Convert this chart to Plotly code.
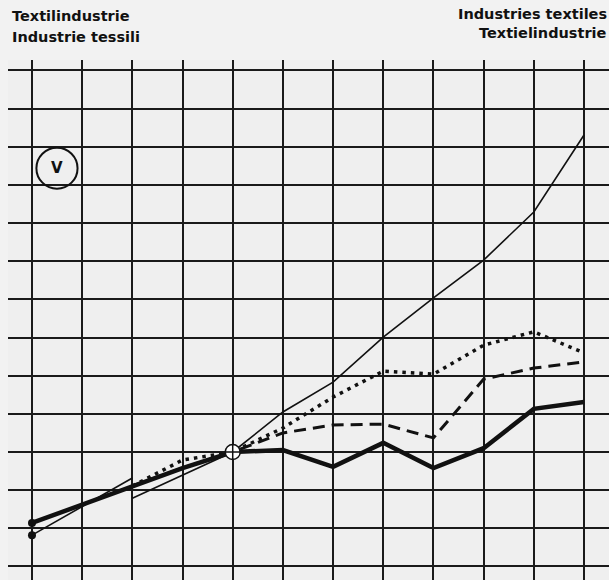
import plotly.graph_objects as go

# x positions are period indices (12 periods, base period index 4 = 100)
periods = list(range(12))

# Index values (base = 100)
thin_old_x = [0, 2]
thin_old = [78.2, 93.2]
thin_x = [2, 3, 4, 5, 6, 7, 8, 9, 10, 11]
thin = [87.9, 94.0, 100.0, 110.5, 118.3, 130.1, 140.4, 150.3, 162.9, 183.1]

thick_x = [0, 2, 3, 4, 5, 6, 7, 8, 9, 10, 11]
thick = [81.4, 91.1, 95.8, 100.0, 100.5, 96.1, 102.4, 95.8, 101.0, 111.3, 113.1]

dotted_x = [2, 3, 4, 5, 6, 7, 8, 9, 10, 11]
dotted = [91.1, 97.9, 100.0, 106.3, 114.4, 121.2, 120.4, 128.0, 131.5, 126.0]

dashed_x = [2, 3, 4, 5, 6, 7, 8, 9, 10, 11]
dashed = [91.1, 95.8, 100.0, 105.0, 107.1, 107.3, 103.7, 119.1, 122.0, 123.6]

start_x = [0, 0]
start_vals = [81.4, 78.2]
base_x = [4]
base_val = [100.0]

y_ticks = list(range(70, 201, 10))

fig = go.Figure()
fig.add_trace(go.Scatter(x=dashed_x, y=dashed, mode="lines",
                         line=dict(color="#111", width=3, dash="12px,7px")))
fig.add_trace(go.Scatter(x=dotted_x, y=dotted, mode="lines",
                         line=dict(color="#111", width=3.5, dash="3.5px,5px")))
fig.add_trace(go.Scatter(x=thin_old_x, y=thin_old, mode="lines",
                         line=dict(color="#111", width=1.6)))
fig.add_trace(go.Scatter(x=thin_x, y=thin, mode="lines",
                         line=dict(color="#111", width=1.6)))
fig.add_trace(go.Scatter(x=thick_x, y=thick, mode="lines",
                         line=dict(color="#111", width=4.5)))
fig.add_trace(go.Scatter(x=start_x, y=start_vals, mode="markers",
                         marker=dict(color="#111", size=8)))
fig.add_trace(go.Scatter(x=base_x, y=base_val, mode="markers",
                         marker=dict(symbol="circle-cross", color="white", size=15,
                                     line=dict(color="#111", width=1.5))))

# circled "V"
cx, cy = 0.498, 174.4
fig.add_shape(type="circle", xref="x", yref="y",
              x0=cx - 0.41, x1=cx + 0.41, y0=cy - 5.37, y1=cy + 5.37,
              line=dict(color="#111", width=2), fillcolor="rgba(0,0,0,0)")
fig.add_annotation(x=cx, y=cy, xref="x", yref="y", text="<b>V</b>", showarrow=False,
                   font=dict(family="DejaVu Sans", size=15, color="#111"))

title_font = dict(family="DejaVu Sans", size=14.5, color="#111")
fig.add_annotation(xref="paper", yref="paper", x=0.003, y=(580 - 15.5) / 520,
                   xanchor="left", yanchor="middle", showarrow=False,
                   text="<b>Textilindustrie</b>", font=title_font)
fig.add_annotation(xref="paper", yref="paper", x=0.003, y=(580 - 37.5) / 520,
                   xanchor="left", yanchor="middle", showarrow=False,
                   text="<b>Industrie tessili</b>", font=title_font)
fig.add_annotation(xref="paper", yref="paper", x=1.0, y=(580 - 13.5) / 520,
                   xanchor="right", yanchor="middle", showarrow=False,
                   text="<b>Industries textiles</b>", font=title_font)
fig.add_annotation(xref="paper", yref="paper", x=1.0, y=(580 - 33.5) / 520,
                   xanchor="right", yanchor="middle", showarrow=False,
                   text="<b>Textielindustrie</b>", font=title_font)

fig.update_layout(
    width=609, height=580,
    margin=dict(l=8, r=0, t=60, b=0),
    showlegend=False,
    plot_bgcolor="#efefef",
    paper_bgcolor="#f2f2f2",
    xaxis=dict(range=[-0.478, 11.498], tickvals=periods, showticklabels=False,
               showgrid=True, gridcolor="#1a1a1a", gridwidth=1.7, zeroline=False,
               showline=False, ticks=""),
    yaxis=dict(range=[66.45, 202.75], tickvals=y_ticks, showticklabels=False,
               showgrid=True, gridcolor="#1a1a1a", gridwidth=1.7, zeroline=False,
               showline=False, ticks=""),
)

fig.write_html("out.html", config={"displayModeBar": False},
               post_script="document.body.style.margin='0';document.body.style.overflow='hidden';")
